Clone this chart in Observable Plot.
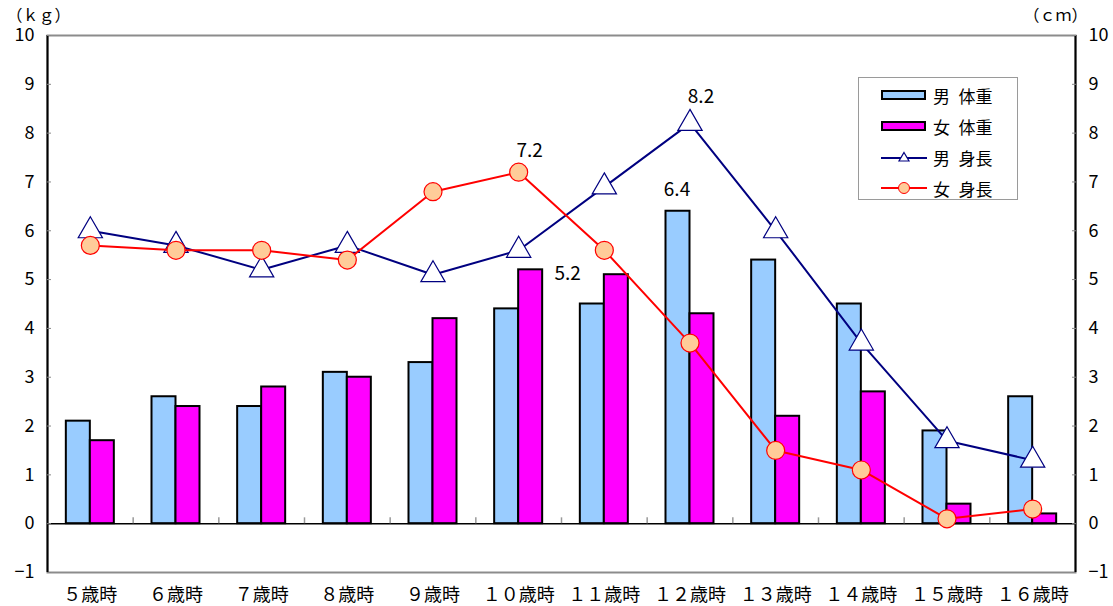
<!DOCTYPE html>
<html><head><meta charset="utf-8">
<script src="https://cdn.jsdelivr.net/npm/d3@7"></script>
<script src="https://cdn.jsdelivr.net/npm/@observablehq/plot@0.6"></script>
<style>
body{margin:0;background:#fff;font-family:'Noto Sans CJK JP',sans-serif;}
#wrap{position:relative;width:1113px;height:606px;}
#legend{position:absolute;left:858px;top:77px;width:160px;height:123px;border:1.5px solid #9a9a9a;background:#fff;box-sizing:border-box;}
.row{position:absolute;left:0;height:24px;display:flex;align-items:center;font-size:17px;color:#000;white-space:nowrap;}
.row svg{margin-left:22px;margin-right:6px;}
</style></head><body>
<div id="wrap"><div id="legend"></div></div>
<script>
const ages = ["５歳時","６歳時","７歳時","８歳時","９歳時","１０歳時","１１歳時","１２歳時","１３歳時","１４歳時","１５歳時","１６歳時"];
const maleWeight   = [2.1, 2.6, 2.4, 3.1, 3.3, 4.4, 4.5, 6.4, 5.4, 4.5, 1.9, 2.6];
const femaleWeight = [1.7, 2.4, 2.8, 3.0, 4.2, 5.2, 5.1, 4.3, 2.2, 2.7, 0.4, 0.2];
const maleHeight   = [6.0, 5.7, 5.2, 5.7, 5.1, 5.6, 6.9, 8.2, 6.0, 3.7, 1.7, 1.3];
const femaleHeight = [5.7, 5.6, 5.6, 5.4, 6.8, 7.2, 5.6, 3.7, 1.5, 1.1, 0.1, 0.3];
const yTicks = [-1,0,1,2,3,4,5,6,7,8,9,10];
const seriesNames = ["男 体重","女 体重","男 身長","女 身長"];
const unitLeft = "（ｋｇ）", unitRight = "（ｃｍ）";

const rows = ages.map((age,i)=>({age, mw:maleWeight[i], fw:femaleWeight[i], mh:maleHeight[i], fh:femaleHeight[i]}));

const W=1113,H=606,ML=47,MR=38,MT=35,MB=34;
const bw=(W-ML-MR)/ages.length;
const barW=24;
const font="'Noto Sans CJK JP', sans-serif";
const C={mw:"#99CCFF",fw:"#FF00FF",mh:"#000080",fh:"#FF0000",fhFill:"#FFCC99"};

const chart = Plot.plot({
  width:W,height:H,marginTop:MT,marginBottom:MB,marginLeft:ML,marginRight:MR,
  style:{fontFamily:font,fontSize:"18px",background:"#fff",color:"#000"},
  x:{type:"band",domain:ages,padding:0,round:false},
  y:{domain:[-1,10]},
  marks:[
    Plot.frame({stroke:"#8c8c8c",strokeWidth:2}),
    Plot.barY(rows,{x:"age",y1:0,y2:"mw",fill:C.mw,stroke:"#000",strokeWidth:2,insetLeft:bw/2-barW,insetRight:bw/2}),
    Plot.barY(rows,{x:"age",y1:0,y2:"fw",fill:C.fw,stroke:"#000",strokeWidth:2,insetLeft:bw/2,insetRight:bw/2-barW}),
    Plot.ruleY([0],{stroke:"#000",strokeWidth:1.5}),
    Plot.ruleX(ages.slice(1),{x:d=>d,y1:0,y2:0.12,dx:-bw/2,stroke:"#999",strokeWidth:1.5}),
    Plot.ruleX([ages[0]],{x:d=>d,y1:-1,y2:10,dx:-bw/2,stroke:"#000",strokeWidth:2}),
    Plot.ruleX([ages[ages.length-1]],{x:d=>d,y1:-1,y2:10,dx:bw/2,stroke:"#000",strokeWidth:2}),
    Plot.line(rows,{x:"age",y:"mh",stroke:C.mh,strokeWidth:2}),
    Plot.dot(rows,{x:"age",y:"mh",symbol:"triangle",r:9,fill:"#fff",stroke:C.mh,strokeWidth:1.2}),
    Plot.line(rows,{x:"age",y:"fh",stroke:C.fh,strokeWidth:2}),
    Plot.dot(rows,{x:"age",y:"fh",r:9,fill:C.fhFill,stroke:C.fh,strokeWidth:1.2}),
    Plot.text(rows.filter(d=>d.age==="１２歳時"),{x:"age",y:"mh",text:d=>d.mh.toFixed(1),dx:11,dy:-26,fontSize:19}),
    Plot.text(rows.filter(d=>d.age==="１０歳時"),{x:"age",y:"fh",text:d=>d.fh.toFixed(1),dx:11,dy:-21,fontSize:19}),
    Plot.text(rows.filter(d=>d.age==="１２歳時"),{x:"age",y:"mw",text:d=>d.mw.toFixed(1),dx:-13,dy:-21,fontSize:19}),
    Plot.text(rows.filter(d=>d.age==="１０歳時"),{x:"age",y:"fw",text:d=>d.fw.toFixed(1),dx:49,dy:4,fontSize:19}),
    Plot.axisY({anchor:"left",ticks:yTicks,tickSize:-4,tickPadding:17,stroke:"#888",label:null,fontSize:18}),
    Plot.axisY({anchor:"right",ticks:yTicks,tickSize:-4,tickPadding:17,stroke:"#888",label:null,fontSize:18}),
    Plot.axisX({anchor:"bottom",tickSize:0,tickPadding:16,label:null,fontSize:18}),
    Plot.text([unitLeft],{frameAnchor:"top-left",text:d=>d,dx:-41,dy:-26,textAnchor:"start",fontSize:16}),
    Plot.text([unitRight],{frameAnchor:"top-right",text:d=>d,dx:12,dy:-26,textAnchor:"end",fontSize:16})
  ]
});
document.getElementById("wrap").prepend(chart);

const lg=document.getElementById("legend");
const swatches=[
  `<svg width="46" height="12"><rect x="1" y="2" width="43" height="8" fill="${C.mw}" stroke="#000" stroke-width="2"/></svg>`,
  `<svg width="46" height="12"><rect x="1" y="2" width="43" height="8" fill="${C.fw}" stroke="#000" stroke-width="2"/></svg>`,
  `<svg width="46" height="14"><line x1="0" y1="8" x2="46" y2="8" stroke="${C.mh}" stroke-width="2"/><path d="M23,2.5 L28,11 L18,11 Z" fill="#fff" stroke="${C.mh}" stroke-width="1.2"/></svg>`,
  `<svg width="46" height="14"><line x1="0" y1="7" x2="46" y2="7" stroke="${C.fh}" stroke-width="2"/><circle cx="23" cy="7" r="5.5" fill="${C.fhFill}" stroke="${C.fh}" stroke-width="1"/></svg>`
];
const rowTops=[5,36,67,98];
seriesNames.forEach((n,i)=>{
  const d=document.createElement("div");
  d.className="row";d.style.top=rowTops[i]+"px";
  d.innerHTML=swatches[i]+`<span>${n.replace(" ","&ensp;")}</span>`;
  lg.appendChild(d);
});
</script>
</body></html>
